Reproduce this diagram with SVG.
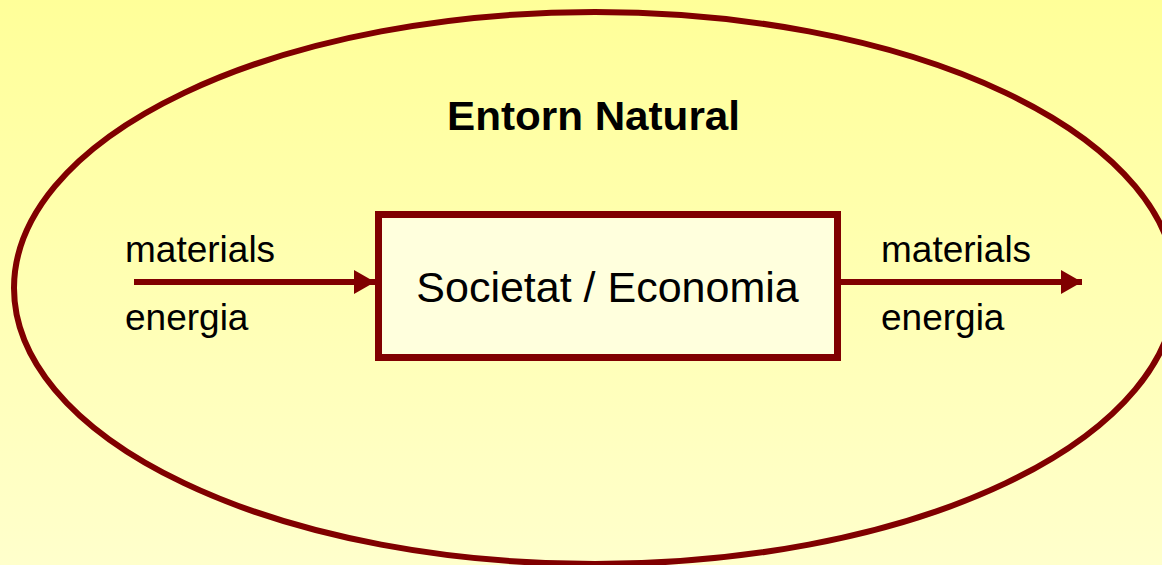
<svg xmlns="http://www.w3.org/2000/svg" width="1162" height="565" viewBox="0 0 1162 565">
  <defs>
    <linearGradient id="bg" x1="0" y1="0" x2="0" y2="1">
      <stop offset="0" stop-color="#FFFF99"/>
      <stop offset="1" stop-color="#FFFFCC"/>
    </linearGradient>
    <marker id="arrow" viewBox="0 0 21 24" refX="21" refY="12" markerUnits="userSpaceOnUse" markerWidth="21" markerHeight="24" orient="auto">
      <path d="M0,0 L21,12 L0,24 Z" fill="#800000"/>
    </marker>
    <style>
      .lbl { font-family: "Liberation Sans", Arial, sans-serif; font-size: 37px; fill: #000; }
      .title { font-family: "Liberation Sans", Arial, sans-serif; font-size: 40px; font-weight: bold; fill: #000; }
      .box { font-family: "Liberation Sans", Arial, sans-serif; font-size: 43px; fill: #000; }
      .conn { stroke: #800000; stroke-width: 6; fill: none; }
    </style>
  </defs>
  <rect x="0" y="0" width="1162" height="565" fill="url(#bg)"/>
  <g id="entorn">
    <ellipse cx="595" cy="288" rx="581" ry="276" fill="none" stroke="#800000" stroke-width="6"/>
    <text class="title" x="447" y="130" textLength="293" lengthAdjust="spacingAndGlyphs">Entorn Natural</text>
  </g>
  <g id="societat">
    <rect x="378.5" y="214.5" width="459" height="143" fill="#FFFFDD" stroke="#800000" stroke-width="7"/>
    <text class="box" x="607.5" y="302" text-anchor="middle">Societat / Economia</text>
  </g>
  <g id="connectors">
    <line class="conn" x1="134" y1="282" x2="375" y2="282" marker-end="url(#arrow)"/>
    <line class="conn" x1="841" y1="282" x2="1082" y2="282" marker-end="url(#arrow)"/>
  </g>
  <g id="labels">
    <text class="lbl" x="125" y="262">materials</text>
    <text class="lbl" x="125" y="330">energia</text>
    <text class="lbl" x="881" y="262">materials</text>
    <text class="lbl" x="881" y="330">energia</text>
  </g>
</svg>
